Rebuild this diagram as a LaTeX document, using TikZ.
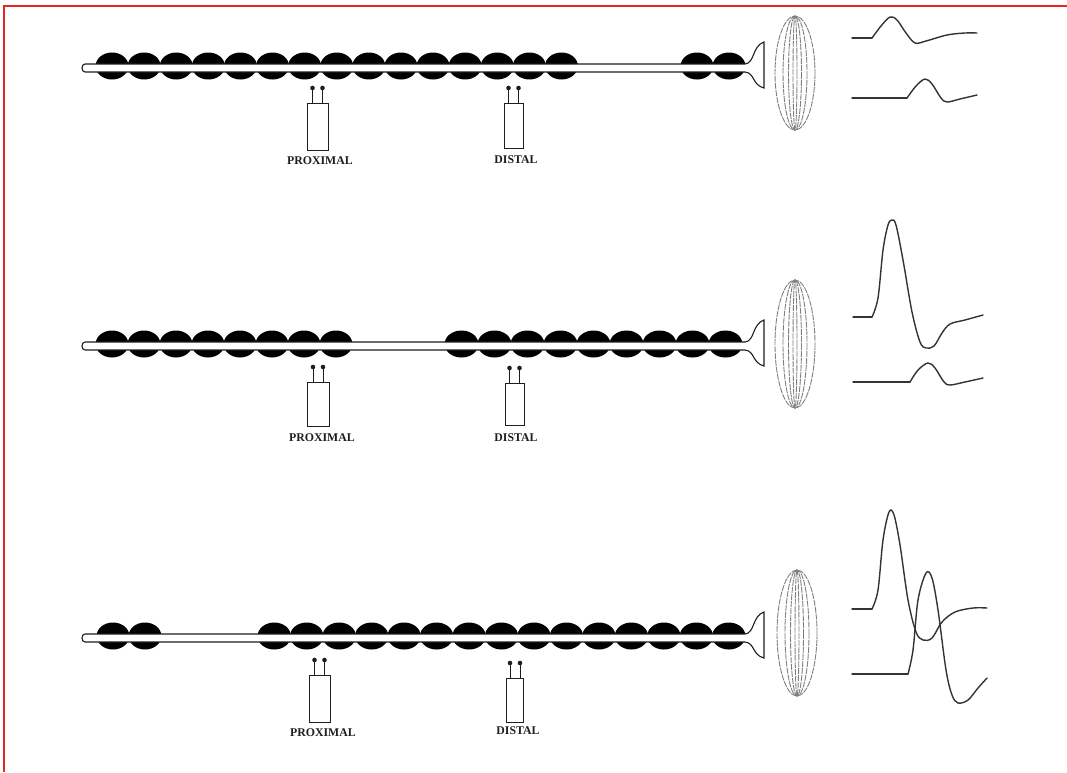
\documentclass[tikz,border=0pt]{standalone}
\usepackage{fontspec}
\setmainfont{Liberation Serif}
\definecolor{frame}{RGB}{232,36,40}
\definecolor{ink}{RGB}{30,30,30}

% myelinated fibre: centre line y, tube from x=85 to the end plate at x=745
\newcommand\fibretube[1]{%
  \fill[white] (85,{#1-4}) rectangle (745,{#1+4});
  \draw[axon] (745,{#1-4}) -- (85,{#1-4}) .. controls (81,{#1-4}) and (81,{#1+4}) .. (85,{#1+4}) -- (745,{#1+4});
  \draw[axon, fill=white] (745,{#1-4}) .. controls (755,{#1-5}) and (752,{#1-22}) .. (764,{#1-26})
     -- (764,{#1+20}) .. controls (752,{#1+17}) and (755,{#1+5}) .. (745,{#1+4});
}
% run of myelin segments: #1 centre y, #2 first left edge, #3 width, #4 last index
\newcommand\myelinrun[4]{%
  \foreach \i in {0,...,#4}
    \fill[myelin] ({#2+#3*\i+#3/2},{#1-2}) ellipse [x radius={#3/2+0.4}, y radius=13.5];
}
% bundle of muscle fibres
\newcommand\muscle[3]{%
  \foreach \r in {20,12,6.5,2}
    \draw[fibre] (#1,#2) ellipse [x radius=\r, y radius=#3];
}
% recording electrode with two leads: #1 name, #2 centre x, #3 top y, #4 bottom y, #5 width
\newcommand\electrode[5]{%
  \node[probe, minimum width=#5, minimum height={#4-#3}] (#1) at (#2,{(#3+#4)/2}) {};
  \draw[lead] ([xshift=-5pt]#1.north) -- ++(0,-15) coordinate (#1-a);
  \draw[lead] ([xshift=5pt]#1.north) -- ++(0,-15) coordinate (#1-b);
  \fill[ink] (#1-a) circle (2.3);
  \fill[ink] (#1-b) circle (2.3);
}

\begin{document}
\begin{tikzpicture}[x=1pt,y=-1pt,
  myelin/.style={fill=black},
  axon/.style={draw=ink, line width=1.1pt},
  probe/.style={draw=ink, line width=1pt, fill=white, inner sep=0pt, outer sep=0pt},
  lead/.style={draw=ink, line width=1pt},
  fibre/.style={draw=black!50, line width=0.9pt, dash pattern=on 6pt off 1pt},
  trace/.style={draw=black!80, line width=1.4pt, line join=round, line cap=round},
  tag/.style={font=\bfseries\fontsize{11.8}{13}\selectfont, inner sep=0pt, text=ink}]
\useasboundingbox (0,0) rectangle (1067,772);
\fill[white] (0,0) rectangle (1067,772);

% frame
\draw[frame, line width=2.6pt] (4,772) -- (4,6) -- (1067,6);

% ---------- fibre 1: demyelinated distal stretch ----------
\myelinrun{68}{96}{32.1}{14}
\myelinrun{68}{681}{32}{1}
\fibretube{68}
\muscle{795}{73}{57}
\electrode{p1}{317.5}{103}{150}{21}
\electrode{d1}{513.5}{103}{148}{19}
\node[tag] (lp1) at (320,161) {PROXIMAL};
\node[tag] (ld1) at (516,160) {DISTAL};

\draw[trace] (852,38) -- (872,38);
\draw[trace] plot[smooth, tension=0.55] coordinates {(872,38) (881,26) (890,17) (897,20) (906,33) (915,43) (926,41) (947,35) (965,33) (977,33)};
\draw[trace] (852,98) -- (907,98);
\draw[trace] plot[smooth, tension=0.55] coordinates {(907,98) (916,86) (925,79) (932,84) (941,98) (947,102) (960,99) (977,95)};

% ---------- fibre 2: demyelinated middle stretch ----------
\myelinrun{346}{96}{32}{7}
\myelinrun{346}{445}{33}{8}
\fibretube{346}
\muscle{795}{344}{64}
\electrode{p2}{318}{382}{426}{22}
\electrode{d2}{514.5}{383}{425}{19}
\node[tag] (lp2) at (322,438) {PROXIMAL};
\node[tag] (ld2) at (516,438) {DISTAL};

\draw[trace] (853,317) -- (872,317);
\draw[trace] plot[smooth, tension=0.55] coordinates {(872,317) (878,298) (883,250) (888,225) (892,220) (896,225) (903,260) (912,312) (920,342) (926,348) (934,346) (942,333) (950,324) (965,320) (983,315)};
\draw[trace] (853,382) -- (910,382);
\draw[trace] plot[smooth, tension=0.55] coordinates {(910,382) (918,370) (928,363) (935,368) (944,382) (950,385) (965,382) (983,378)};

% ---------- fibre 3: demyelinated proximal stretch ----------
\myelinrun{638}{97}{32}{1}
\myelinrun{638}{258}{32.47}{14}
\fibretube{638}
\muscle{797}{633}{63}
\electrode{p3}{319.5}{675}{722}{21}
\electrode{d3}{515}{678}{722}{17}
\node[tag] (lp3) at (323,733) {PROXIMAL};
\node[tag] (ld3) at (518,731) {DISTAL};

\draw[trace] (852,609) -- (872,609);
\draw[trace] plot[smooth, tension=0.55] coordinates {(872,609) (878,590) (883,540) (889,512) (894,515) (900,545) (908,600) (916,632) (923,640) (932,638) (942,622) (955,612) (973,608) (987,608)};
\draw[trace] (852,674) -- (908,674);
\draw[trace] plot[smooth, tension=0.55] coordinates {(908,674) (913,650) (918,600) (926,573) (932,578) (938,610) (946,670) (952,695) (958,703) (968,700) (978,688) (987,678)};
\end{tikzpicture}
\end{document}
